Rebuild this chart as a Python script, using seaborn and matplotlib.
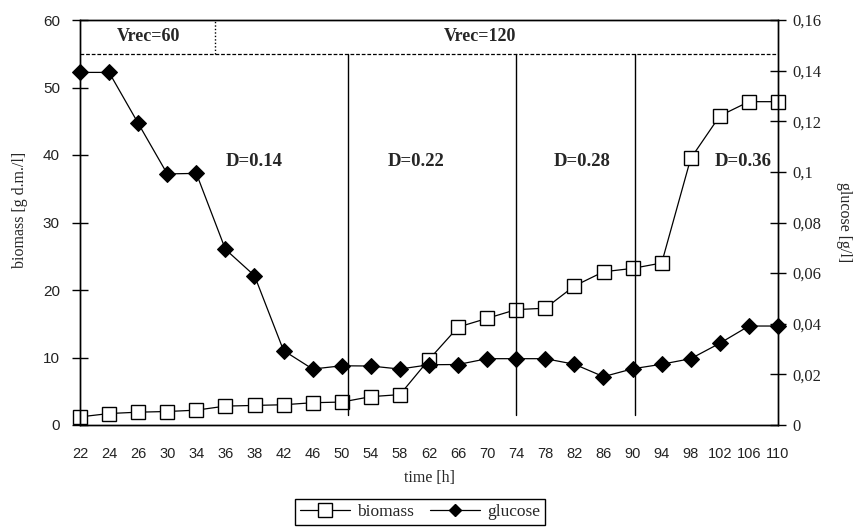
import numpy as np
import pandas as pd
import seaborn as sns
import matplotlib
matplotlib.use("Agg")
import matplotlib.pyplot as plt
from matplotlib.lines import Line2D

# ---- data ----
time_labels = ["22", "24", "26", "30", "34", "36", "38", "42", "46", "50", "54", "58", "62",
               "66", "70", "74", "78", "82", "86", "90", "94", "98", "102", "106", "110"]
biomass = [1.2, 1.7, 1.9, 2.0, 2.2, 2.8, 2.9, 3.0, 3.3, 3.4, 4.2, 4.5, 9.7,
           14.5, 15.8, 17.1, 17.3, 20.6, 22.7, 23.2, 24.0, 39.5, 45.8, 47.9, 47.9]
glucose = [0.1393, 0.1393, 0.1192, 0.0992, 0.0994, 0.0694, 0.0590, 0.0294, 0.0221, 0.0234,
           0.0233, 0.0221, 0.0238, 0.0239, 0.0262, 0.0262, 0.0262, 0.0240, 0.0191, 0.0222,
           0.0240, 0.0262, 0.0323, 0.0391, 0.0391]
left_ticks = [0, 10, 20, 30, 40, 50, 60]
right_ticks = [0, 0.02, 0.04, 0.06, 0.08, 0.10, 0.12, 0.14, 0.16]
right_tick_labels = ["0", "0,02", "0,04", "0,06", "0,08", "0,1", "0,12", "0,14", "0,16"]
phase_labels = ["D=0.14", "D=0.22", "D=0.28", "D=0.36"]
phase_label_pos = [6.0, 11.55, 17.25, 22.8]      # category-index positions
phase_bounds = [9.2, 15.0, 19.1]                 # category-index positions
vrec_labels = ["Vrec=60", "Vrec=120"]
vrec_label_pos = [2.35, 13.75]
vrec_bound = 4.65

idx = np.arange(len(time_labels))
df = pd.DataFrame({"idx": idx, "time": time_labels, "biomass": biomass, "glucose": glucose})

sns.set_style("white")
plt.rcParams["font.family"] = ["Liberation Serif", "DejaVu Serif"]

fig = plt.figure(figsize=(8.56, 5.28), dpi=100)
ax = fig.add_axes([80 / 856, 1 - 425 / 528, (778 - 80) / 856, (425 - 20) / 528])
ax2 = ax.twinx()

sns.lineplot(data=df, x="idx", y="biomass", ax=ax, color="black", linewidth=0.9,
             marker="s", markersize=10, markerfacecolor="white", markeredgecolor="black",
             markeredgewidth=1.0, clip_on=False, legend=False)
sns.lineplot(data=df, x="idx", y="glucose", ax=ax2, color="black", linewidth=0.9,
             marker="D", markersize=8, markerfacecolor="black", markeredgecolor="black",
             clip_on=False, legend=False)

ax.set_xlim(0, len(time_labels) - 1)
ax.set_ylim(0, 60)
ax2.set_ylim(0, 0.16)

ax.set_xticks(idx)
ax.set_xticklabels(time_labels, family=["Liberation Sans", "DejaVu Sans"], fontsize=10.5, color="#222222")
ax.set_yticks(left_ticks)
ax.set_yticklabels([str(t) for t in left_ticks], family=["Liberation Sans", "DejaVu Sans"],
                   fontsize=11, color="#222222")
ax2.set_yticks(right_ticks)
ax2.set_yticklabels(right_tick_labels, fontsize=12, color="#222222")

ax.tick_params(axis="y", direction="inout", length=11, width=1.0, color="black", pad=9)
ax.tick_params(axis="x", direction="inout", length=11, width=1.0, color="black", pad=10)
ax2.tick_params(axis="y", direction="inout", length=11, width=1.0, color="black", pad=5)

for a in (ax, ax2):
    for s in a.spines.values():
        s.set_color("black")
        s.set_linewidth(1.0)

ax.set_xlabel("time [h]", fontsize=11.5, labelpad=7)
ax.set_ylabel("biomass [g d.m./l]", fontsize=11.5, labelpad=9)
ax.yaxis.set_label_coords(-0.075, 0.53)
ax2.set_ylabel("glucose [g/l]", fontsize=11.5, rotation=-90, labelpad=22)

# top band: Vrec region
band_y = 55.0  # dashed line level on biomass axis
ax.axhline(band_y, color="black", linestyle=(0, (3, 1.5)), linewidth=0.9)
ax.plot([vrec_bound, vrec_bound], [band_y, 60], color="black", linestyle=(0, (1, 1.5)), linewidth=1.0)
for lab, xp in zip(vrec_labels, vrec_label_pos):
    ax.text(xp, 57.5, lab, ha="center", va="center", fontsize=13, fontweight="bold")

# phase boundaries
for xb in phase_bounds:
    ax.plot([xb, xb], [1.5, band_y], color="black", linewidth=1.0)
for lab, xp in zip(phase_labels, phase_label_pos):
    ax.text(xp, 39.0, lab, ha="center", va="center", fontsize=13.5, fontweight="bold")

handles = [
    Line2D([], [], color="black", linewidth=0.9, marker="s", markersize=10,
           markerfacecolor="white", markeredgecolor="black"),
    Line2D([], [], color="black", linewidth=0.9, marker="D", markersize=6,
           markerfacecolor="black", markeredgecolor="black"),
]
leg = fig.legend(handles, ["biomass", "glucose"], loc="center",
                 bbox_to_anchor=(420 / 856, 1 - 512 / 528), ncol=2, frameon=True,
                 fancybox=False, framealpha=1, edgecolor="black", fontsize=12.5,
                 handlelength=2.9, handletextpad=0.4, columnspacing=0.9,
                 borderpad=0.3)
leg.get_frame().set_linewidth(1.0)

fig.savefig("out.png", dpi=100)
